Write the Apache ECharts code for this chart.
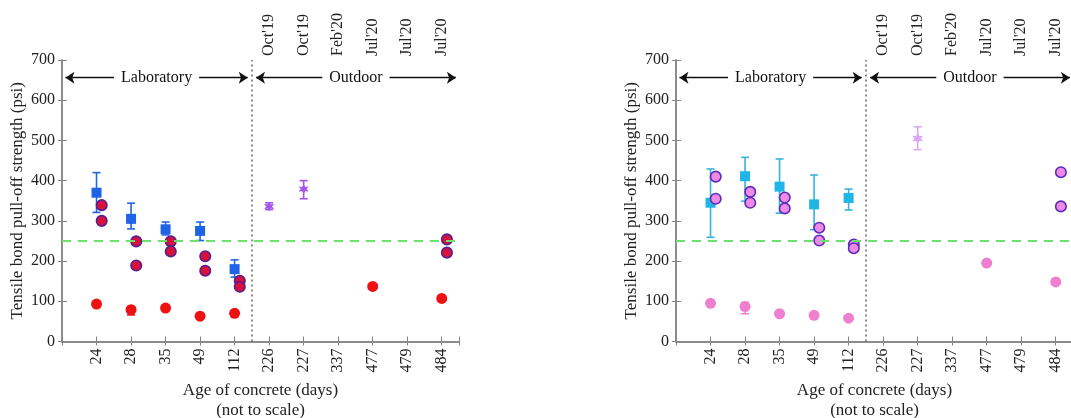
<!DOCTYPE html>
<html>
<head>
<meta charset="utf-8">
<script src="https://cdn.jsdelivr.net/npm/echarts@6/dist/echarts.min.js"></script>
<style>
  html, body { margin: 0; background: #fff; }
  #chart-container { width: 1071px; height: 418px; }
</style>
</head>
<body>
<div id="chart-container"></div>
<script>
// categories (age of concrete, days) and the dates shown on top
const ages = ["24", "28", "35", "49", "112", "226", "227", "337", "477", "479", "484"];
const dates = ["", "", "", "", "", "Oct'19", "Oct'19", "Feb'20", "Jul'20", "Jul'20", "Jul'20"];

// left panel
const labSquare = [370, 305, 279, 275, 180, null, null, null, null, null, null];
const labSquareLo = [321, 280, 265, 251, 160, null, null, null, null, null, null];
const labSquareHi = [420, 344, 297, 297, 203, null, null, null, null, null, null];
const redRingA = [339, 249, 249, 212, 151, null, null, null, null, null, 254];
const redRingB = [300, 189, 224, 176, 136, null, null, null, null, null, 221];
const redDot = [93, 79, 83, 63, 70, null, null, null, 137, null, 107];
const redDotLo = [null, 66, null, null, null, null, null, null, null, null, null];
const redDotHi = [null, 87, null, null, null, null, null, null, null, null, null];
const starLeft = [null, null, null, null, null, 336, 379, null, null, null, null];
const starLeftLo = [null, null, null, null, null, 328, 355, null, null, null, null];
const starLeftHi = [null, null, null, null, null, 345, 400, null, null, null, null];

// right panel
const cyanSquare = [345, 411, 385, 341, 357, null, null, null, null, null, null];
const cyanSquareLo = [259, 349, 319, 278, 327, null, null, null, null, null, null];
const cyanSquareHi = [429, 458, 454, 414, 379, null, null, null, null, null, null];
const pinkRingA = [410, 372, 358, 283, 241, null, null, null, null, null, 421];
const pinkRingB = [355, 345, 331, 251, 232, null, null, null, null, null, 336];
const pinkDot = [95, 87, 69, 65, 58, null, null, null, 195, null, 148];
const pinkDotLo = [null, 69, null, null, null, null, null, null, null, null, null];
const pinkDotHi = [null, 97, null, null, null, null, null, null, null, null, null];
const starRight = [null, null, null, null, null, null, 505, null, null, null, null];
const starRightLo = [null, null, null, null, null, null, 477, null, null, null, null];
const starRightHi = [null, null, null, null, null, null, 534, null, null, null, null];

const threshold = 250;

(() => {
  const dom = document.getElementById("chart-container");
  const chart = echarts.init(dom, null, { renderer: "canvas" });

  const FONT = "Liberation Serif";
  const AXIS = "#858585";
  const STAR = "path://M0,-10L2.5,-4.33L8.66,-5L5,0L8.66,5L2.5,4.33L0,10L-2.5,4.33L-8.66,5L-5,0L-8.66,-5L-2.5,-4.33Z";

  const pts = (arr, off) =>
    arr.map((v, i) => (v == null ? null : [i + 1 + off, v])).filter(Boolean);
  const bars = (lo, hi) =>
    lo.map((v, i) => (v == null ? null : [i + 1, v, hi[i]])).filter(Boolean);

  const errItem = (params, api) => {
    const x = api.value(0);
    const a = api.coord([x, api.value(1)]);
    const b = api.coord([x, api.value(2)]);
    const c = api.visual("color");
    const w = 4;
    const st = { stroke: c, lineWidth: 1.6 };
    return {
      type: "group",
      children: [
        { type: "line", shape: { x1: a[0], y1: a[1], x2: b[0], y2: b[1] }, style: st },
        { type: "line", shape: { x1: a[0] - w, y1: a[1], x2: a[0] + w, y2: a[1] }, style: st },
        { type: "line", shape: { x1: b[0] - w, y1: b[1], x2: b[0] + w, y2: b[1] }, style: st },
      ],
    };
  };

  const xAxes = (g) => [
    {
      type: "value", gridIndex: g, position: "bottom", min: 0, max: 11.5, interval: 1,
      axisLine: { show: true, lineStyle: { color: AXIS, width: 1.5 } },
      axisTick: { inside: true, length: 5, lineStyle: { color: AXIS } },
      splitLine: { show: false },
      axisLabel: {
        rotate: 90, margin: 7, fontSize: 16, fontFamily: FONT, color: "#222",
        formatter: (v) => (Number.isInteger(v) && v >= 1 ? ages[v - 1] : ""),
      },
      name: "Age of concrete (days)\n(not to scale)",
      nameLocation: "middle", nameGap: 39,
      nameTextStyle: { fontSize: 17, fontFamily: FONT, color: "#222", lineHeight: 20 },
    },
    {
      type: "value", gridIndex: g, position: "top", min: 0, max: 11.5, interval: 1,
      axisLine: { show: true, lineStyle: { color: AXIS, width: 1.5 } },
      axisTick: { inside: true, length: 4, lineStyle: { color: AXIS } },
      splitLine: { show: false },
      axisLabel: {
        rotate: 90, margin: 4, fontSize: 16, fontFamily: FONT, color: "#222",
        formatter: (v) => (Number.isInteger(v) && v >= 1 ? dates[v - 1] : ""),
      },
    },
  ];

  const yAxes = (g) => [
    {
      type: "value", gridIndex: g, position: "left", min: 0, max: 700, interval: 100,
      axisLine: { show: true, lineStyle: { color: AXIS, width: 1.5 } },
      axisTick: { inside: true, length: 5, lineStyle: { color: AXIS } },
      splitLine: { show: false },
      axisLabel: { margin: 7, fontSize: 16, fontFamily: FONT, color: "#222" },
      name: "Tensile bond pull-off strength (psi)",
      nameLocation: "middle", nameGap: 36,
      nameTextStyle: { fontSize: 17, fontFamily: FONT, color: "#222" },
    },
    {
      type: "value", gridIndex: g, position: "right", min: 0, max: 700, interval: 100,
      axisLine: { show: true, lineStyle: { color: AXIS, width: 1.5 } },
      axisTick: { inside: true, length: 4, lineStyle: { color: AXIS } },
      splitLine: { show: false },
      axisLabel: { show: false },
    },
  ];

  const guides = (g) => [
    {
      type: "line", xAxisIndex: 2 * g, yAxisIndex: 2 * g, data: [], z: 1,
      markLine: {
        silent: true, symbol: "none", label: { show: false },
        data: [
          { yAxis: threshold, lineStyle: { color: "#6ee06e", type: [9, 7], width: 2 } },
          { xAxis: 5.5, lineStyle: { color: "#666", type: [2, 3], width: 1.5 } },
        ],
      },
    },
    {
      type: "line", xAxisIndex: 2 * g, yAxisIndex: 2 * g, data: [], z: 1,
      markLine: {
        silent: true, symbol: ["arrow", "arrow"], symbolSize: 9,
        lineStyle: { color: "#111", type: "solid", width: 1.3 },
        label: {
          show: true, position: "middle", distance: 0, verticalAlign: "middle",
          color: "#111", fontSize: 16, fontFamily: FONT,
          backgroundColor: "#fff", padding: [0, 7],
        },
        data: [
          [{ coord: [0.1, 656], name: "Laboratory" }, { coord: [5.38, 656] }],
          [{ coord: [5.62, 656], name: "Outdoor" }, { coord: [11.41, 656] }],
        ],
      },
    },
  ];

  const err = (g, lo, hi, color) => ({
    type: "custom", xAxisIndex: 2 * g, yAxisIndex: 2 * g, renderItem: errItem,
    encode: { x: 0, y: [1, 2] }, itemStyle: { color }, data: bars(lo, hi), z: 2,
  });
  const sc = (g, data, symbol, size, color, border) => ({
    type: "scatter", xAxisIndex: 2 * g, yAxisIndex: 2 * g, data, symbol, symbolSize: size, z: 3,
    itemStyle: border
      ? { color, borderColor: border, borderWidth: 1.6, opacity: 1 }
      : { color, opacity: 1 },
  });

  const option = {
    animation: false,
    grid: [
      { left: 62, top: 60, width: 397, height: 281.5, outerBoundsMode: "none" },
      { left: 676, top: 60, width: 397, height: 281.5, outerBoundsMode: "none" },
    ],
    xAxis: [...xAxes(0), ...xAxes(1)],
    yAxis: [...yAxes(0), ...yAxes(1)],
    series: [
      ...guides(0),
      ...guides(1),
      // left
      err(0, labSquareLo, labSquareHi, "#2166e0"),
      err(0, redDotLo, redDotHi, "#e81818"),
      err(0, starLeftLo, starLeftHi, "#a455ee"),
      sc(0, pts(labSquare, 0), "rect", 10, "#1f63e6"),
      sc(0, pts(redDot, 0), "circle", 11, "#ee1111"),
      sc(0, pts(redRingA, 0.15), "circle", 10.5, "#d8113c", "#55208f"),
      sc(0, pts(redRingB, 0.15), "circle", 10.5, "#d8113c", "#55208f"),
      sc(0, pts(starLeft, 0), STAR, 10, "#a455ee"),
      // right
      err(1, cyanSquareLo, cyanSquareHi, "#36b2dc"),
      err(1, pinkDotLo, pinkDotHi, "#ee86d2"),
      err(1, starRightLo, starRightHi, "#d8a8f2"),
      sc(1, pts(cyanSquare, 0), "rect", 10, "#1fb6e6"),
      sc(1, pts(pinkDot, 0), "circle", 11, "#ef80cf"),
      sc(1, pts(pinkRingA, 0.15), "circle", 10.5, "#ee8ae6", "#5a2db8"),
      sc(1, pts(pinkRingB, 0.15), "circle", 10.5, "#ee8ae6", "#5a2db8"),
      sc(1, pts(starRight, 0), STAR, 11, "#d8a8f2"),
    ],
  };

  chart.setOption(option);
  window.addEventListener("resize", chart.resize);
})();
</script>
</body>
</html>
